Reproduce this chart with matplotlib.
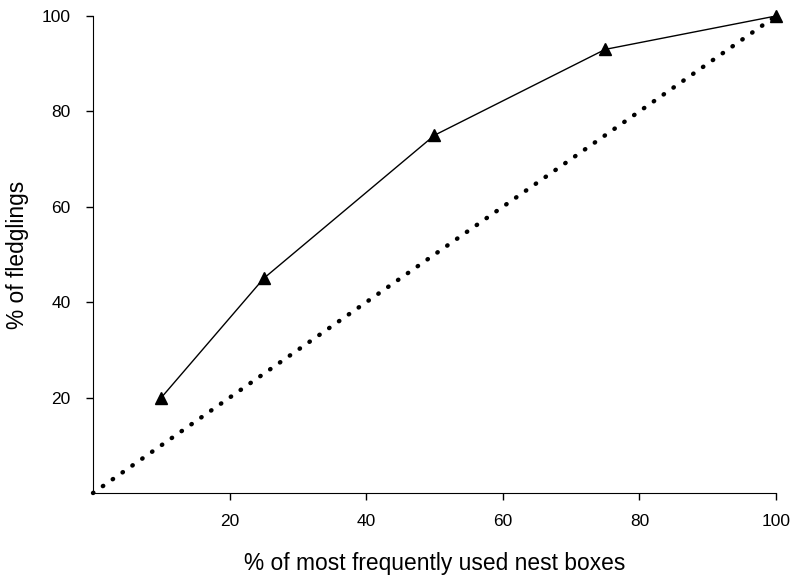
import matplotlib.pyplot as plt

plt.rcParams["font.family"] = ["Liberation Sans", "DejaVu Sans"]

nest_boxes = [10, 25, 50, 75, 100]
fledglings = [20, 45, 75, 93, 100]
equal_line = [0, 100]

fig = plt.figure(figsize=(7.91, 5.75), dpi=100)
ax = fig.add_axes([0.1176, 0.1426, 0.8634, 0.8296])

# 1:1 reference line
ax.plot(equal_line, equal_line, color="black", linestyle=(0, (0.1, 2.6)),
        linewidth=3.2, dash_capstyle="round", clip_on=False)
ax.plot(nest_boxes, fledglings, color="black", linewidth=1,
        marker="^", markersize=9, clip_on=False)

ax.set_xlim(0, 100)
ax.set_ylim(0, 100)
ax.set_xticks([20, 40, 60, 80, 100])
ax.set_yticks([20, 40, 60, 80, 100])
ax.tick_params(direction="out", length=5, width=1, labelsize=12.5)
ax.tick_params(axis="x", pad=10)
ax.tick_params(axis="y", pad=11)
for side in ["top", "right"]:
    ax.spines[side].set_visible(False)

ax.set_xlabel("% of most frequently used nest boxes", fontsize=16.4, labelpad=17)
ax.set_ylabel("% of fledglings", fontsize=16.4, labelpad=9)

plt.savefig("out.png", dpi=100)
